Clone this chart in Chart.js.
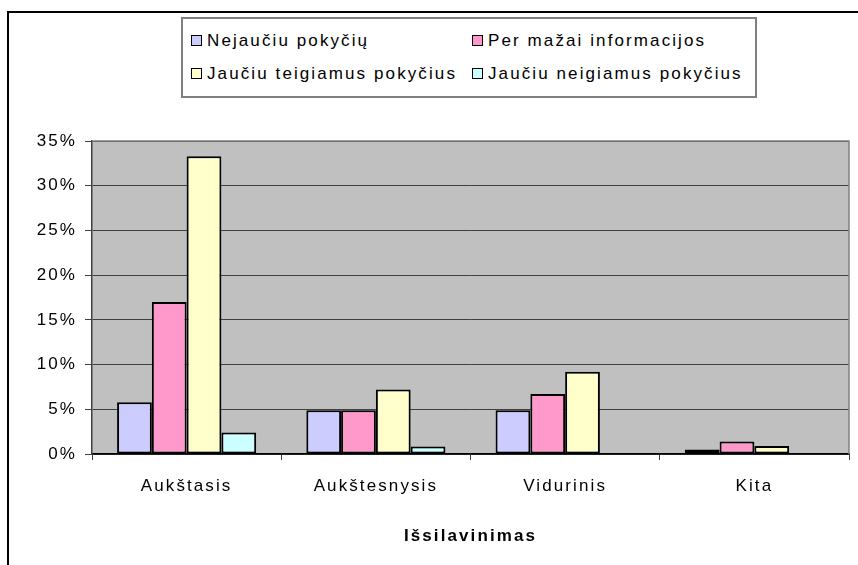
<!DOCTYPE html>
<html>
<head>
<meta charset="utf-8">
<script src="https://cdn.jsdelivr.net/npm/chart.js@4.4.0/dist/chart.umd.min.js"></script>
<style>
  body { margin: 0; background: #fff; font-family: "Liberation Sans", Arial, sans-serif; }
  #wrap { position: relative; width: 858px; height: 565px; overflow: hidden; }
  #frame { position: absolute; left: 7px; top: 11px; width: 900px; height: 600px; border: 2px solid #000; box-sizing: border-box; pointer-events: none; }
  #legend { position: absolute; left: 181px; top: 17px; width: 576px; height: 81px; border: 2px solid #808080; box-sizing: border-box; background: #fff; }
  .item { position: absolute; height: 20px; line-height: 20px; font-size: 17px; letter-spacing: 2.1px; color: #000; white-space: nowrap; }
  .sw { position: absolute; left: 0; top: 4px; width: 9px; height: 9px; border: 1.5px solid #000; }
  .item span.txt { position: absolute; left: 16px; top: 0; }
  canvas { position: absolute; left: 0; top: 0; }
</style>
</head>
<body>
<div id="wrap">
  <canvas id="canvas" width="858" height="565"></canvas>
  <div id="legend"></div>
  <div id="frame"></div>
</div>
<script>
// chart data
const categories = ["Aukštasis", "Aukštesnysis", "Vidurinis", "Kita"];
const seriesNames = [
  "Nejaučiu pokyčių",
  "Per mažai informacijos",
  "Jaučiu teigiamus pokyčius",
  "Jaučiu neigiamus pokyčius",
];
const nejauciu = [5.8, 4.9, 4.9, 0.5];
const perMazai = [17.0, 4.9, 6.7, 1.4];
const teigiamus = [33.3, 7.2, 9.2, 0.9];
const neigiamus = [2.4, 0.85, 0, 0];
const seriesColors = ["#ccccff", "#ff99cc", "#ffffcc", "#ccffff"];
const yTicks = [0, 5, 10, 15, 20, 25, 30, 35];
const xTitle = "Išsilavinimas";

const values = [nejauciu, perMazai, teigiamus, neigiamus];
const font = '"Liberation Sans", Arial, sans-serif';

// html legend, 2 columns
const legend = document.getElementById("legend");
const legendPos = [[8, 12], [289, 12], [8, 45], [289, 45]];
seriesNames.forEach((name, i) => {
  const item = document.createElement("div");
  item.className = "item";
  item.style.left = legendPos[i][0] + "px";
  item.style.top = legendPos[i][1] + "px";
  item.innerHTML = '<div class="sw" style="background:' + seriesColors[i] + '"></div><span class="txt"></span>';
  item.querySelector(".txt").textContent = name;
  legend.appendChild(item);
});

// gray plot area + top/right border, and wider text like the original
const plotArea = {
  id: "plotArea",
  beforeDraw(chart) {
    const { ctx, chartArea: a } = chart;
    ctx.save();
    ctx.fillStyle = "#c0c0c0";
    ctx.fillRect(a.left, a.top, a.right - a.left, a.bottom - a.top);
    ctx.restore();
    ctx.letterSpacing = "2.1px";
  },
  afterDraw(chart) {
    const { ctx, chartArea: a } = chart;
    ctx.save();
    ctx.strokeStyle = "#808080";
    ctx.lineWidth = 1.5;
    ctx.beginPath();
    ctx.moveTo(a.left, a.top);
    ctx.lineTo(a.right, a.top);
    ctx.lineTo(a.right, a.bottom);
    ctx.stroke();
    ctx.restore();
  },
};

const ctx = document.getElementById("canvas").getContext("2d");
const chart = new Chart(ctx, {
  type: "bar",
  data: {
    labels: categories,
    datasets: seriesNames.map((name, i) => ({
      label: name,
      data: values[i],
      backgroundColor: seriesColors[i],
      borderColor: "#000",
      borderWidth: 2,
      borderSkipped: false,
      categoryPercentage: 0.735,
      barPercentage: 1,
    })),
  },
  options: {
    responsive: false,
    animation: false,
    layout: { padding: { top: 141, right: 9, left: 0, bottom: 0 } },
    plugins: {
      legend: { display: false },
      tooltip: { enabled: false },
    },
    scales: {
      x: {
        afterFit: (scale) => { scale.height = 111; },
        grid: { display: true, drawOnChartArea: false, tickLength: 6, color: "#404040", offset: true },
        border: { color: "#000", width: 1.5 },
        ticks: { color: "#000", font: { family: font, size: 17 }, padding: 16 },
        title: {
          display: true,
          text: xTitle,
          color: "#000",
          font: { family: font, size: 17, weight: "bold" },
          padding: { top: 0, bottom: 18 },
        },
      },
      y: {
        min: 0,
        max: 35,
        afterFit: (scale) => { scale.width = 92; },
        afterBuildTicks: (scale) => { scale.ticks = yTicks.map((v) => ({ value: v })); },
        grid: { color: "#404040", lineWidth: 1, tickLength: 7, tickColor: "#404040" },
        border: { color: "#404040", width: 1.5 },
        ticks: {
          color: "#000",
          font: { family: font, size: 17 },
          padding: 8,
          callback: (v) => v + "%",
        },
      },
    },
  },
  plugins: [plotArea],
});
</script>
</body>
</html>
